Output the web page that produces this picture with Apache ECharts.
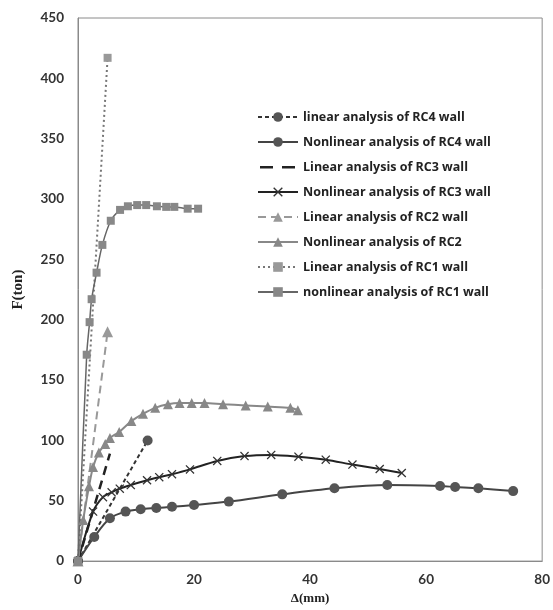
<!DOCTYPE html>
<html>
<head>
<meta charset="utf-8">
<script src="https://cdn.jsdelivr.net/npm/echarts@6/dist/echarts.min.js"></script>
<style>
  html, body { margin: 0; padding: 0; background: #fff; }
  #chart { width: 553px; height: 610px; }
</style>
</head>
<body>
<div id="chart"></div>
<script>
// values (x = displacement mm, y = force ton)
var linearRC4 = [[0, 0], [12, 100]];
var nonlinearRC4 = [[0, 0], [2.8, 20], [5.5, 35.5], [8.2, 41], [10.8, 43], [13.5, 44], [16.2, 45], [20, 46.5],
  [26, 49.3], [35.2, 55.3], [44.2, 60.3], [53.3, 63], [62.4, 62.2], [65, 61.4], [69, 60.3], [75, 58]];
var linearRC3 = [[0, 0], [5.5, 89]];
var nonlinearRC3 = [[0, 0], [2.6, 41], [4.3, 53], [5.8, 57], [7.2, 60], [9.1, 63], [11.9, 67], [14, 69.5],
  [16.2, 72], [19.3, 76], [24, 83], [28.7, 87], [33.3, 88], [38, 86.5], [42.7, 84], [47.3, 80], [52, 76.3], [55.8, 73]];
var linearRC2 = [[0, 0], [5.1, 190]];
var nonlinearRC2 = [[0, 0], [0.9, 34], [1.9, 62], [2.6, 78], [3.6, 90], [4.7, 97], [5.5, 102], [7.1, 107],
  [9.2, 116], [11.2, 122], [13.3, 127], [15.5, 130], [17.5, 131], [19.6, 131], [21.8, 131], [25, 130],
  [28.9, 129], [32.7, 128], [36.6, 127], [37.9, 125]];
var linearRC1 = [[0, 0], [5.1, 417]];
var nonlinearRC1 = [[0, 0], [1.5, 171], [2.0, 198], [2.35, 217], [3.2, 239], [4.2, 262], [5.65, 282], [7.25, 291],
  [8.6, 294], [10.2, 295], [11.75, 295], [13.6, 294], [15.2, 293.5], [16.6, 293.5], [18.9, 292], [20.7, 292]];

var names = [
  'linear analysis of RC4 wall',
  'Nonlinear analysis of RC4 wall',
  'Linear analysis of RC3 wall',
  'Nonlinear analysis of RC3 wall',
  'Linear analysis of RC2 wall',
  'Nonlinear analysis of RC2',
  'Linear analysis of RC1 wall',
  'nonlinear analysis of RC1 wall'
];

var crossPath = 'path://M0,1L1,0L5,4L9,0L10,1L6,5L10,9L9,10L5,6L1,10L0,9L4,5Z';
// two short dashes, corner specks keep the icon box at 40x12
var dashIcon = 'path://M0,0L0.01,0L0,0.01Z M2,5H15V7.5H2Z M24,5H37V7.5H24Z M40,12L39.99,12L40,11.99Z';

var chart = echarts.init(document.getElementById('chart'));

function line(name, data, color, width, type, symbol, size, symColor, smooth) {
  return {
    name: name,
    type: 'line',
    data: data,
    smooth: smooth ? 0.3 : false,
    symbol: symbol,
    symbolSize: size,
    showSymbol: symbol !== 'none',
    lineStyle: { color: color, width: width, type: type },
    itemStyle: { color: symColor || color },
    emphasis: { disabled: true },
    z: 2
  };
}

var legendData = names.map(function (n, i) {
  return i === 2 ? { name: n, icon: dashIcon } : { name: n };
});

var option = {
  animation: false,
  backgroundColor: '#fff',
  grid: { left: 78, right: 8, top: 18, bottom: 47, show: true, borderColor: '#8a8a8a', borderWidth: 1 },
  legend: {
    orient: 'vertical',
    left: 252,
    top: 105,
    itemWidth: 40,
    itemHeight: 12,
    itemGap: 11,
    textStyle: { fontFamily: 'Open Sans', fontWeight: 'bold', fontSize: 12.5, lineHeight: 14, color: '#222' },
    data: legendData
  },
  xAxis: {
    type: 'value',
    min: 0, max: 80, interval: 20,
    name: 'Δ(mm)',
    nameLocation: 'middle',
    nameGap: 27,
    nameTextStyle: { fontFamily: 'Liberation Serif', fontWeight: 'bold', fontSize: 13, color: '#222' },
    axisLine: { lineStyle: { color: '#8a8a8a' } },
    axisTick: { show: false },
    splitLine: { show: false },
    axisLabel: { fontFamily: 'Lato', fontWeight: 'bold', fontSize: 13.5, color: '#333', margin: 12 }
  },
  yAxis: {
    type: 'value',
    min: 0, max: 450, interval: 50,
    name: 'F(ton)',
    nameLocation: 'middle',
    nameGap: 52,
    nameTextStyle: { fontFamily: 'Liberation Serif', fontWeight: 'bold', fontSize: 15, color: '#222' },
    axisLine: { show: true, lineStyle: { color: '#8a8a8a' } },
    axisTick: { show: false },
    splitLine: { show: false },
    axisLabel: { fontFamily: 'Lato', fontWeight: 'bold', fontSize: 13.5, color: '#333', margin: 14 }
  },
  series: [
    line(names[0], linearRC4, '#333', 2, [4, 3], 'circle', 10, '#555', false),
    line(names[1], nonlinearRC4, '#444', 2, 'solid', 'circle', 10, '#555', true),
    line(names[2], linearRC3, '#222', 2.5, [9, 6], 'none', 0, null, false),
    line(names[3], nonlinearRC3, '#222', 2, 'solid', crossPath, 9, '#333', true),
    line(names[4], linearRC2, '#999', 2, [8, 5], 'triangle', 11, '#999', false),
    line(names[5], nonlinearRC2, '#888', 2, 'solid', 'triangle', 10, '#888', true),
    line(names[6], linearRC1, '#777', 2, [2, 3], 'rect', 8, '#999', false),
    line(names[7], nonlinearRC1, '#666', 1.5, 'solid', 'rect', 8, '#888', true)
  ]
};

chart.setOption(option);
</script>
</body>
</html>
